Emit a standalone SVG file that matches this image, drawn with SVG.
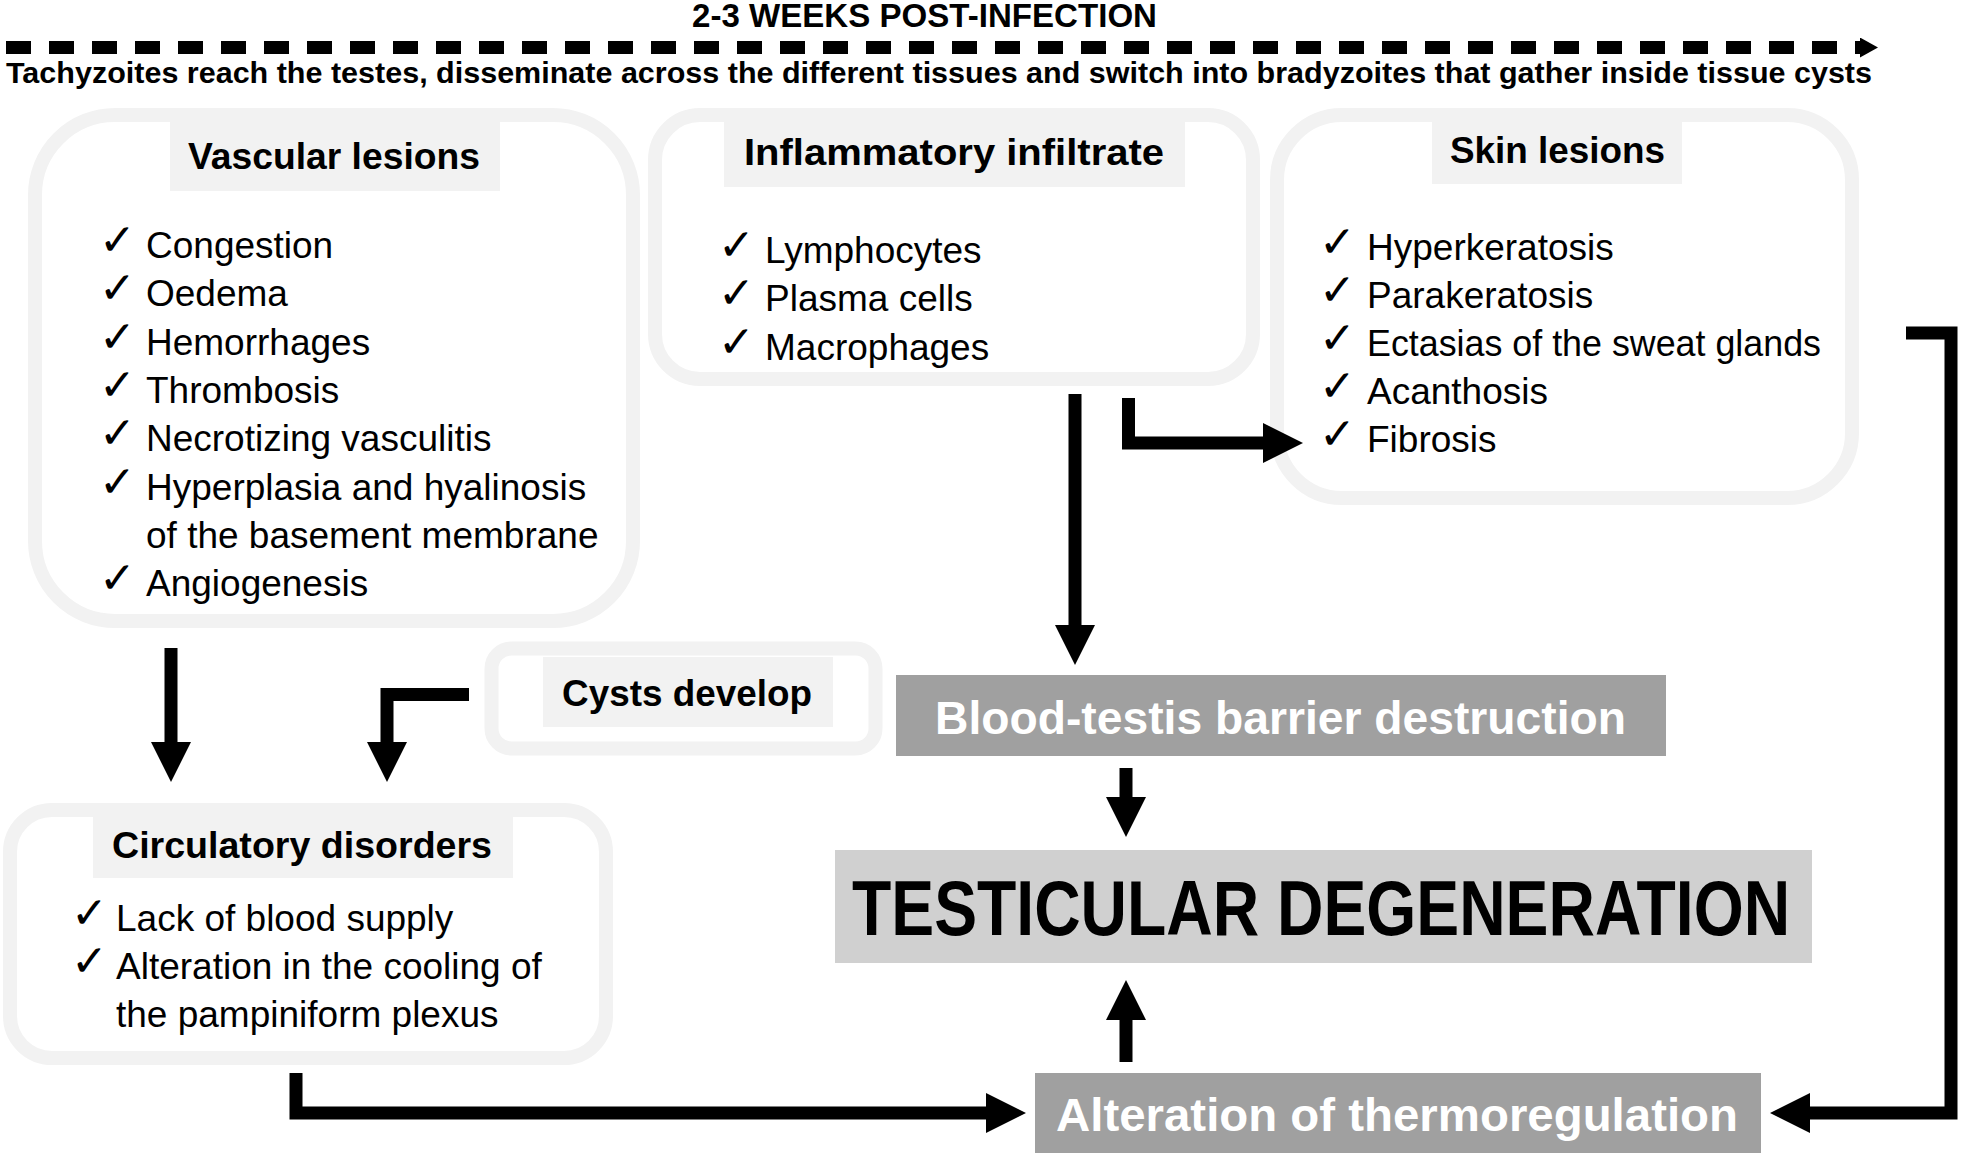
<svg xmlns="http://www.w3.org/2000/svg" width="1961" height="1157" viewBox="0 0 1961 1157">
<style>
.box{fill:#ffffff;stroke:#f2f2f2;stroke-width:14}
.tbg{fill:#f2f2f2}
.dk{fill:#a0a0a0}
.lt{fill:#d0d0d0}
.b{font-family:"Liberation Sans",Arial,sans-serif;font-weight:bold;fill:#000}
.tt{font-family:"Liberation Sans",Arial,sans-serif;font-weight:bold;font-size:37px;fill:#000}
.it{font-family:"Liberation Sans",Arial,sans-serif;font-size:37px;fill:#000}
.ck{font-family:"DejaVu Sans",sans-serif;font-size:44px;fill:#000}
.wt{font-family:"Liberation Sans",Arial,sans-serif;font-weight:bold;font-size:47px;fill:#ffffff}
.con{fill:none;stroke:#000;stroke-width:13;stroke-linejoin:miter;stroke-linecap:butt}
</style>
<defs>
<marker id="ah" markerUnits="userSpaceOnUse" viewBox="0 0 40 40" markerWidth="40" markerHeight="40" refX="0" refY="20" orient="auto">
<path d="M0,0 L40,20 L0,40 Z" fill="#000"/>
</marker>
<marker id="ahs" markerUnits="userSpaceOnUse" viewBox="0 0 18 20" markerWidth="18" markerHeight="20" refX="0" refY="10" orient="auto">
<path d="M0,0 L18,10 L0,20 Z" fill="#000"/>
</marker>
</defs>
<rect x="0" y="0" width="1961" height="1157" fill="#ffffff"/>

<g id="timeline">
<text class="b" x="692" y="27" font-size="33" textLength="465" lengthAdjust="spacingAndGlyphs">2-3 WEEKS POST-INFECTION</text>
<text class="b" x="6" y="83" font-size="30" textLength="1866" lengthAdjust="spacingAndGlyphs">Tachyzoites reach the testes, disseminate across the different tissues and switch into bradyzoites that gather inside tissue cysts</text>
</g>

<g id="vascular-lesions">
<rect class="box" x="35" y="115" width="598" height="506" rx="80" ry="80"/>
<rect class="tbg" x="170" y="122" width="330" height="69"/>
<text class="tt" x="188" y="169" textLength="292" lengthAdjust="spacingAndGlyphs">Vascular lesions</text>
<text class="ck" x="99" y="255">✓</text><text class="it" x="146" y="258">Congestion</text>
<text class="ck" x="99" y="303">✓</text><text class="it" x="146" y="306">Oedema</text>
<text class="ck" x="99" y="352">✓</text><text class="it" x="146" y="355">Hemorrhages</text>
<text class="ck" x="99" y="400">✓</text><text class="it" x="146" y="403">Thrombosis</text>
<text class="ck" x="99" y="448">✓</text><text class="it" x="146" y="451">Necrotizing vasculitis</text>
<text class="ck" x="99" y="497">✓</text><text class="it" x="146" y="500">Hyperplasia and hyalinosis</text>
<text class="it" x="146" y="548">of the basement membrane</text>
<text class="ck" x="99" y="593">✓</text><text class="it" x="146" y="596">Angiogenesis</text>
</g>

<g id="inflammatory-infiltrate">
<rect class="box" x="655" y="115" width="598" height="264" rx="45" ry="45"/>
<rect class="tbg" x="724" y="122" width="461" height="65"/>
<text class="tt" x="744" y="165" textLength="420" lengthAdjust="spacingAndGlyphs">Inflammatory infiltrate</text>
<text class="ck" x="718" y="260">✓</text><text class="it" x="765" y="263">Lymphocytes</text>
<text class="ck" x="718" y="308">✓</text><text class="it" x="765" y="311">Plasma cells</text>
<text class="ck" x="718" y="357">✓</text><text class="it" x="765" y="360">Macrophages</text>
</g>

<g id="skin-lesions">
<rect class="box" x="1277" y="115" width="575" height="383" rx="65" ry="65"/>
<rect class="tbg" x="1432" y="122" width="250" height="62"/>
<text class="tt" x="1450" y="163" textLength="215" lengthAdjust="spacingAndGlyphs">Skin lesions</text>
<text class="ck" x="1319" y="257">✓</text><text class="it" x="1367" y="260">Hyperkeratosis</text>
<text class="ck" x="1319" y="305">✓</text><text class="it" x="1367" y="308">Parakeratosis</text>
<text class="ck" x="1319" y="353">✓</text><text class="it" x="1367" y="356" textLength="454" lengthAdjust="spacingAndGlyphs">Ectasias of the sweat glands</text>
<text class="ck" x="1319" y="401">✓</text><text class="it" x="1367" y="404">Acanthosis</text>
<text class="ck" x="1319" y="449">✓</text><text class="it" x="1367" y="452">Fibrosis</text>
</g>

<g id="cysts-develop">
<rect class="box" x="491.5" y="648.5" width="384" height="100" rx="20" ry="20"/>
<rect class="tbg" x="543" y="657" width="290" height="70"/>
<text class="tt" x="562" y="706" textLength="250" lengthAdjust="spacingAndGlyphs">Cysts develop</text>
</g>

<g id="circulatory-disorders">
<rect class="box" x="10" y="810" width="596" height="248" rx="42" ry="42"/>
<rect class="tbg" x="93" y="814" width="420" height="64"/>
<text class="tt" x="112" y="858" textLength="380" lengthAdjust="spacingAndGlyphs">Circulatory disorders</text>
<text class="ck" x="71" y="928">✓</text><text class="it" x="116" y="931">Lack of blood supply</text>
<text class="ck" x="71" y="976">✓</text><text class="it" x="116" y="979">Alteration in the cooling of</text>
<text class="it" x="116" y="1027">the pampiniform plexus</text>
</g>

<g id="blood-testis-barrier">
<rect class="dk" x="896" y="675" width="770" height="81"/>
<text class="wt" x="935" y="734" textLength="691" lengthAdjust="spacingAndGlyphs">Blood-testis barrier destruction</text>
</g>

<g id="testicular-degeneration">
<rect class="lt" x="835" y="850" width="977" height="113"/>
<text class="b" font-size="77" transform="matrix(0.835 0 0 1 852 935)" x="0" y="0">TESTICULAR DEGENERATION</text>
</g>

<g id="thermoregulation">
<rect class="dk" x="1035" y="1073" width="726" height="80"/>
<text class="wt" x="1056" y="1131" textLength="682" lengthAdjust="spacingAndGlyphs">Alteration of thermoregulation</text>
</g>

<g id="connectors">
<path class="con" d="M6,47.5 H1860" stroke-width="9" stroke-dasharray="25 18" marker-end="url(#ahs)"/>
<path class="con" d="M171,648 V742" marker-end="url(#ah)"/>
<path class="con" d="M469,694.5 H387 V742" marker-end="url(#ah)"/>
<path class="con" d="M1075,394 V625" marker-end="url(#ah)"/>
<path class="con" d="M1128.5,398 V443 H1263" marker-end="url(#ah)"/>
<path class="con" d="M1126,768 V797" marker-end="url(#ah)"/>
<path class="con" d="M1126,1062 V1020" marker-end="url(#ah)"/>
<path class="con" d="M296,1073 V1113 H986" marker-end="url(#ah)"/>
<path class="con" d="M1906,333 H1951 V1113 H1810" marker-end="url(#ah)"/>
</g>
</svg>
